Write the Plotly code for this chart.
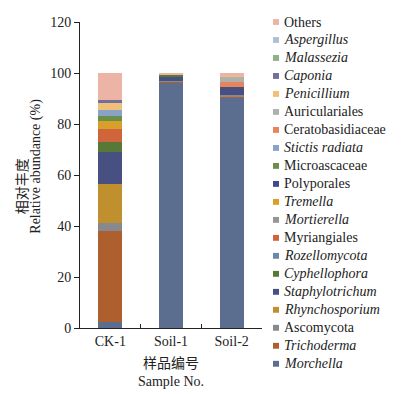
import plotly.graph_objects as go

samples = ["CK-1", "Soil-1", "Soil-2"]

# stacking order: bottom -> top
taxa = ["Morchella", "Trichoderma", "Ascomycota", "Rhynchosporium", "Staphylotrichum",
        "Cyphellophora", "Rozellomycota", "Myriangiales", "Mortierella", "Tremella",
        "Polyporales", "Microascaceae", "Stictis radiata", "Ceratobasidiaceae",
        "Auriculariales", "Penicillium", "Caponia", "Malassezia", "Aspergillus", "Others"]
italic = {"Morchella", "Trichoderma", "Rhynchosporium", "Staphylotrichum", "Cyphellophora",
          "Rozellomycota", "Mortierella", "Tremella", "Stictis radiata", "Penicillium",
          "Caponia", "Malassezia", "Aspergillus"}

morchella = [2.5, 96.2, 90.2]
trichoderma = [35.6, 0.6, 0.3]
ascomycota = [2.9, 0.2, 0.8]
rhynchosporium = [15.4, 0.0, 0.0]
staphylotrichum = [12.8, 1.6, 3.2]
cyphellophora = [3.7, 0.7, 0.0]
rozellomycota = [0.0, 0.0, 0.0]
myriangiales = [5.3, 0.0, 0.0]
mortierella = [0.0, 0.0, 0.0]
tremella = [2.8, 0.0, 0.0]
polyporales = [0.0, 0.0, 0.0]
microascaceae = [2.3, 0.2, 0.0]
stictis = [2.2, 0.0, 0.0]
ceratobasidiaceae = [0.0, 0.0, 2.1]
auriculariales = [0.0, 0.0, 2.0]
penicillium = [2.6, 0.0, 0.4]
caponia = [1.5, 0.0, 0.0]
malassezia = [0.0, 0.0, 0.0]
aspergillus = [0.0, 0.0, 0.0]
others = [10.4, 0.5, 1.0]

values = [morchella, trichoderma, ascomycota, rhynchosporium, staphylotrichum,
          cyphellophora, rozellomycota, myriangiales, mortierella, tremella,
          polyporales, microascaceae, stictis, ceratobasidiaceae, auriculariales,
          penicillium, caponia, malassezia, aspergillus, others]

colors = ["#5b6e8f", "#ad5f2d", "#88888f", "#c0902e", "#475080",
          "#587838", "#6a88aa", "#d0643c", "#969696", "#d8a02a",
          "#3f4a88", "#6a9048", "#8aa2c4", "#e8845c", "#b0b0b0",
          "#f0c078", "#727098", "#90b088", "#b0c0d4", "#ecb4a4"]

FONT = "Liberation Serif, Times New Roman, Noto Sans CJK SC, serif"
OFF = 8  # default page body margin
W, H = 413 - OFF, 394 - OFF
# plot area in page pixels: x 80..262, y 15..328
ML, MT = 80 - OFF, 15 - OFF
MR = W - (262 - OFF)
MB = H - (328 - OFF)
PW, PH = W - ML - MR, H - MT - MB


def px2x(px):
    return (px - OFF - ML) / PW


def py2y(py):
    return (H - MB - (py - OFF)) / PH


fig = go.Figure()
for name, vals, col in zip(taxa, values, colors):
    fig.add_trace(go.Bar(x=samples, y=vals, name=name, marker_color=col,
                         marker_line_width=0, width=0.4, showlegend=False))

annotations = []
shapes = []
for i, (name, col) in enumerate(zip(taxa[::-1], colors[::-1])):
    yc = 15 + i * 18.4
    label = f"<i>{name}</i>" if name in italic else name
    annotations.append(dict(x=px2x(282), y=py2y(yc), xref="paper", yref="paper",
                            text=label, showarrow=False, xanchor="left", yanchor="middle",
                            font=dict(family=FONT, size=14, color="#222")))
    shapes.append(dict(type="rect", xref="paper", yref="paper",
                       x0=px2x(273), x1=px2x(279), y0=py2y(yc - 3), y1=py2y(yc + 3),
                       fillcolor=col, line_width=0))

# y-axis title (two rotated lines)
annotations.append(dict(x=px2x(22), y=py2y(183), xref="paper", yref="paper",
                        text="相对丰度", textangle=-90, showarrow=False,
                        xanchor="center", yanchor="middle",
                        font=dict(family=FONT, size=14, color="#222")))
annotations.append(dict(x=px2x(36), y=py2y(163), xref="paper", yref="paper",
                        text="Relative abundance (%)", textangle=-90, showarrow=False,
                        xanchor="center", yanchor="middle",
                        font=dict(family=FONT, size=14, color="#222")))

fig.update_layout(
    barmode="stack",
    width=W, height=H,
    margin=dict(l=ML, r=MR, t=MT, b=MB),
    paper_bgcolor="white", plot_bgcolor="white",
    font=dict(family=FONT, size=14, color="#222"),
    showlegend=False,
    annotations=annotations,
    shapes=shapes,
)
fig.update_xaxes(range=[-0.5, 2.5], showline=True, linecolor="#222", linewidth=1,
                 ticks="inside", tickson="boundaries", ticklen=4, tickcolor="#222",
                 showgrid=False, tickfont=dict(size=14),
                 title=dict(text="样品编号<br>Sample No.", standoff=10,
                            font=dict(size=14)))
fig.update_yaxes(range=[0, 120], dtick=20, showline=True, linecolor="#222", linewidth=1,
                 ticks="outside", ticklen=5, tickcolor="#222", showgrid=False,
                 zeroline=False, tickfont=dict(size=14), ticklabeloverflow="allow")

fig.write_html("out.html")
